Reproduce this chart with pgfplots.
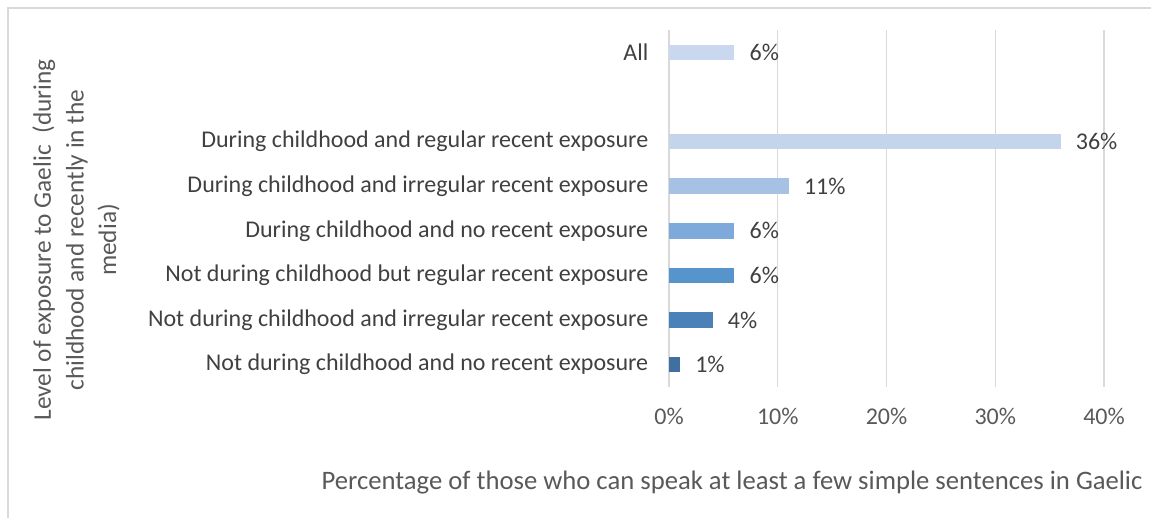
\documentclass[border=0pt]{standalone}
\usepackage{pgfplots}
\pgfplotsset{compat=1.18}
\usepackage{fontspec}
\setmainfont{Carlito}
\definecolor{gridc}{HTML}{D9D9D9}
\definecolor{tickc}{HTML}{595959}
\definecolor{labc}{HTML}{404040}
\definecolor{b0}{HTML}{416F9F}
\definecolor{b1}{HTML}{4A82B7}
\definecolor{b2}{HTML}{5894CC}
\definecolor{b3}{HTML}{7DA9DB}
\definecolor{b4}{HTML}{A5C1E4}
\definecolor{b5}{HTML}{C4D5EB}
\definecolor{b7}{HTML}{C9D8EE}
\newcommand{\fnt}{\fontsize{18pt}{22pt}\selectfont}
\begin{document}
\begin{tikzpicture}[x=0.75pt,y=-0.75pt]
\useasboundingbox (0,0) rectangle (1151,517);
\draw[gridc, line width=1.2pt] (8,540) -- (8,8) -- (1170,8);
\coordinate (origin) at (669,387);
\begin{axis}[
    at={(origin)}, anchor=south west,
    width=326.25pt, height=267.75pt, scale only axis,
    xmin=0, xmax=40, ymin=-0.5, ymax=7.5,
    axis line style={draw=none},
    major tick length=0pt,
    xmajorgrids, grid style={gridc, line width=1.1pt},
    xtick={0,10,20,30,40},
    xticklabel={\pgfmathprintnumber{\tick}\%},
    /pgf/number format/assume math mode=true,
    xticklabel style={text=tickc, font=\fnt},
    xticklabel shift=12pt,
    ytick={0,1,2,3,4,5,7},
    yticklabels={Not during childhood and no recent exposure,
        Not during childhood and irregular recent exposure,
        Not during childhood but regular recent exposure,
        During childhood and no recent exposure,
        During childhood and irregular recent exposure,
        During childhood and regular recent exposure,
        All},
    yticklabel style={text=labc, font=\fnt},
    yticklabel shift=12pt,
    xbar, bar width=11.6pt,
    point meta=x,
    nodes near coords={\pgfmathprintnumber{\pgfplotspointmeta}\%},
    nodes near coords style={text=labc, font=\fnt, anchor=west, xshift=8pt},
    clip=false,
]
\addplot[draw=none, fill=b0, bar shift=0pt] coordinates {(1,0)};
\addplot[draw=none, fill=b1, bar shift=0pt] coordinates {(4,1)};
\addplot[draw=none, fill=b2, bar shift=0pt] coordinates {(6,2)};
\addplot[draw=none, fill=b3, bar shift=0pt] coordinates {(6,3)};
\addplot[draw=none, fill=b4, bar shift=0pt] coordinates {(11,4)};
\addplot[draw=none, fill=b5, bar shift=0pt] coordinates {(36,5)};
\addplot[draw=none, fill=b7, bar shift=0pt] coordinates {(6,7)};
\end{axis}
\node[rotate=90, align=center, text=tickc, font=\fontsize{19pt}{24.5pt}\selectfont] at (76,240)
    {Level of exposure to Gaelic\ \ (during\\childhood and recently in the\\media)};
\node[text=tickc, font=\fontsize{20pt}{24pt}\selectfont] at (732,483)
    {Percentage of those who can speak at least a few simple sentences in Gaelic};
\end{tikzpicture}
\end{document}
